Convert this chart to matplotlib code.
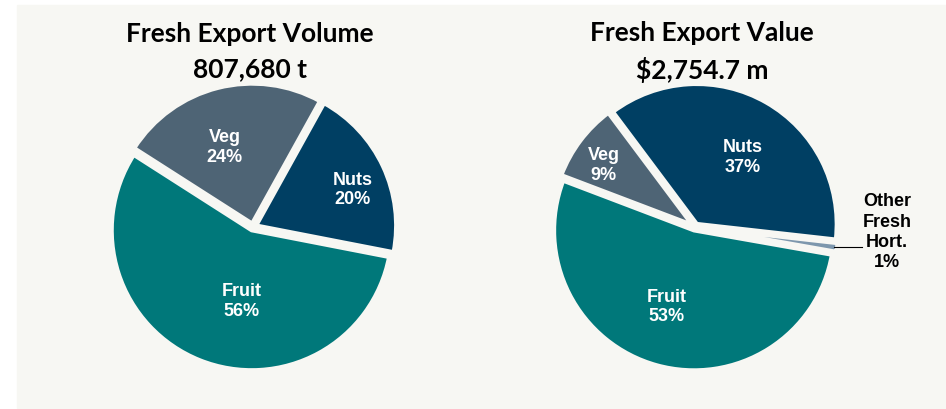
import numpy as np
import matplotlib.pyplot as plt
from matplotlib.patches import Rectangle

# data
vol_cats = ["Fruit", "Veg", "Nuts"]
vol_pct = [56, 24, 20]
val_cats = ["Fruit", "Veg", "Nuts", "Other\nFresh\nHort."]
val_pct = [53, 9, 37, 1]

vol_title = "Fresh Export Volume\n807,680 t"
val_title = "Fresh Export Value\n$2,754.7 m"

bg = "#f7f7f3"
cols = {"Fruit": "#00787a", "Veg": "#4e6475", "Nuts": "#003f63",
        "Other\nFresh\nHort.": "#7d97ad"}

plt.rcParams['font.family'] = ['Liberation Sans', 'DejaVu Sans']

fig = plt.figure(figsize=(9.46, 4.10), dpi=100)
fig.patch.set_facecolor("white")
fig.patches.append(Rectangle((17 / 946, 1 / 410), 929 / 946, 403 / 410,
                             transform=fig.transFigure, color=bg, zorder=-5))

R = 140.0  # px per pie radius
half = 150.0


def make_axes(cx, cy):
    ax = fig.add_axes([(cx - half) / 946, (410 - cy - half) / 410,
                       2 * half / 946, 2 * half / 410])
    ax.axis("off")
    return ax


def draw_pie(ax, cats, pct, start, label_r, label_shift):
    wedges, _ = ax.pie(pct, colors=[cols[c] for c in cats], startangle=start,
                       counterclock=False, explode=[0.025] * len(pct),
                       wedgeprops=dict(edgecolor=bg, linewidth=3))
    # pie resets the limits, so set the scale afterwards
    ax.set_xlim(-half / R, half / R)
    ax.set_ylim(-half / R, half / R)
    ax.set_aspect("equal")
    for w, c, p, r, s in zip(wedges, cats, pct, label_r, label_shift):
        if r is None:
            continue
        a = np.deg2rad((w.theta1 + w.theta2) / 2 + s)
        ax.text(r * np.cos(a), r * np.sin(a), f"{c}\n{p}%", color="white",
                fontsize=13, fontweight="bold", ha="center", va="center",
                linespacing=1.2)
    return wedges


ax1 = make_axes(253, 228)
draw_pie(ax1, vol_cats, vol_pct, -11, [0.53, 0.61, 0.76], [13, 5, -4])

ax2 = make_axes(695, 228)
w2 = draw_pie(ax2, val_cats, val_pct, -10, [0.60, 0.79, 0.61, None], [-4.5, 2.5, -4.5, 0])

# leader for small slice
ow = w2[3]
a = np.deg2rad((ow.theta1 + ow.theta2) / 2)
tip = (1.0 * np.cos(a), 1.0 * np.sin(a))
ax2.plot([tip[0], 1.19], [tip[1], tip[1]], color="black", lw=0.8, clip_on=False)
ax2.text(1.37, -0.03, f"{val_cats[3]}\n{val_pct[3]}%", color="black",
         fontsize=13, fontweight="bold", ha="center", va="center", linespacing=1.25)

fig.text(250 / 946, 1 - 52 / 410, vol_title, ha="center", va="center",
         fontsize=19, fontweight="bold", family=["Lato", "DejaVu Sans"], linespacing=1.55)
fig.text(702 / 946, 1 - 52 / 410, val_title, ha="center", va="center",
         fontsize=19, fontweight="bold", family=["Lato", "DejaVu Sans"], linespacing=1.55)

fig.savefig("out.png", dpi=100, facecolor=fig.get_facecolor())
